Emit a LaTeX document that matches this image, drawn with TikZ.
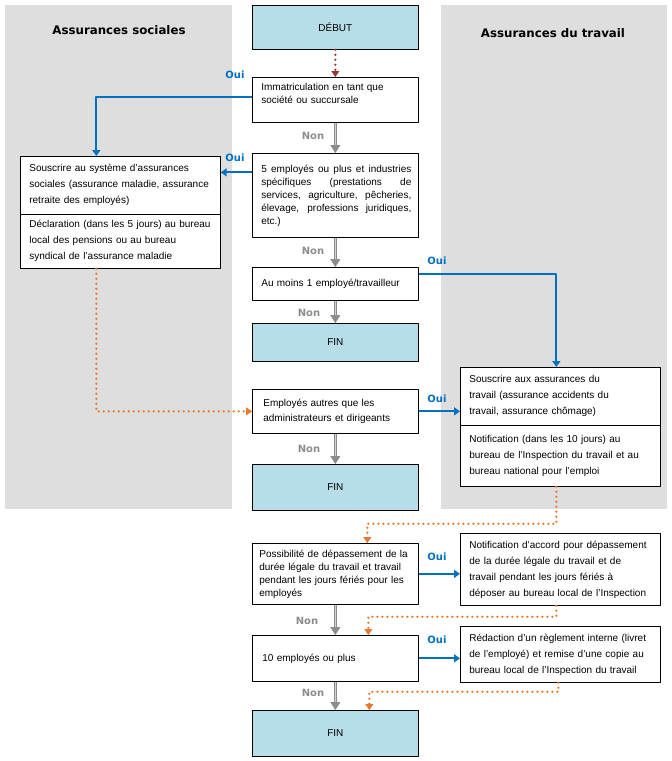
\documentclass[tikz,border=0pt]{standalone}
\usepackage{fontspec}
\setmainfont{Liberation Sans}
\newfontfamily\headfont{DejaVu Sans}
\usetikzlibrary{arrows.meta}

\definecolor{panelgray}{HTML}{DEDEDE}
\definecolor{endblue}{HTML}{B7DDE8}
\definecolor{ouiblue}{HTML}{0070C0}
\definecolor{dotorange}{HTML}{E9782A}
\definecolor{dotred}{HTML}{953735}
\definecolor{nongray}{HTML}{8C8C8C}

% one justified line of the box text
\newcommand\fullline[1]{\hspace*{2pt}\makebox[150pt][s]{\spaceskip=.3333em plus 1fil\relax #1}}

\tikzset{
  box/.style={draw=black, fill=white, line width=0.7pt, anchor=north west,
    inner xsep=9pt, inner ysep=0pt, align=left,
    font=\fontsize{10}{13}\selectfont},
  mainbox/.style={box, inner xsep=7pt, text width=152pt, minimum width=166pt},
  sidebox/.style={box, text width=182pt, minimum width=200pt,
    font=\fontsize{10}{16}\selectfont},
  endbox/.style={mainbox, fill=endblue, align=center},
  heading/.style={font=\headfont\bfseries\fontsize{11.8}{14}\selectfont},
  oui/.style={font=\headfont\bfseries\fontsize{10}{12}\selectfont, text=ouiblue},
  non/.style={font=\headfont\bfseries\fontsize{10}{12}\selectfont, text=nongray},
  ouiarrow/.style={ouiblue, line width=2pt, -{Triangle[width=8pt,length=6pt]}},
  nonarrow/.style={nongray, line width=3.6pt,
    -{Triangle[width=10pt,length=8pt,line width=0.4pt]},
    postaction={draw=gray!35, line width=1.2pt, -, shorten >=8pt}},
  dotarrow/.style={dotorange, line width=2.4pt, line cap=round,
    dash pattern=on 0pt off 5pt, -{Triangle[width=8pt,length=6pt,line width=0.4pt]}},
}

\begin{document}
\begin{tikzpicture}[x=1pt, y=-1pt, line join=round]
  \useasboundingbox (0,0) rectangle (672,761);

  % panels
  \fill[panelgray] (5,5) rectangle (232,509);
  \fill[panelgray] (441,5) rectangle (667,509);
  \node[heading] (hsoc) at (119,30) {Assurances sociales};
  \node[heading] (htrav) at (553,33) {Assurances du travail};

  % main column
  \node[endbox, minimum height=44pt] (debut) at (252,5) {DÉBUT};
  \node[mainbox, minimum height=45pt] (immat) at (252,77)
    {\hspace*{2pt}Immatriculation en tant que\\\hspace*{2pt}société ou succursale\\\mbox{}};
  \node[mainbox, minimum height=84pt] (cinq) at (252,153)
    {\fullline{5 employés ou plus et industries}\\
     \fullline{spécifiques (prestations de}\\
     \fullline{services, agriculture, pêcheries,}\\
     \fullline{élevage, professions juridiques,}\\
     \hspace*{2pt}etc.)};
  \node[mainbox, minimum height=33pt] (aumoins) at (252,267)
    {\hspace*{2pt}Au moins 1 employé/travailleur};
  \node[endbox, minimum height=38pt] (fin1) at (252,323) {FIN};
  \node[mainbox, minimum height=44pt, font=\fontsize{10}{15}\selectfont] (autres) at (252,389)
    {\hspace*{4pt}Employés autres que les\\\hspace*{4pt}administrateurs et dirigeants};
  \node[endbox, minimum height=46pt] (fin2) at (252,464) {FIN};
  \node[mainbox, minimum height=61pt] (possib) at (252,543)
    {Possibilité de dépassement de la\\durée légale du travail et travail\\pendant les jours fériés pour les\\employés};
  \node[mainbox, minimum height=46pt] (dix) at (252,635) {\hspace*{3pt}10 employés ou plus};
  \node[endbox, minimum height=46pt] (fin3) at (252,710) {FIN};

  % social insurance side
  \node[sidebox, minimum height=58pt] (socA) at (20,156)
    {Souscrire au système d’assurances\\sociales (assurance maladie, assurance\\retraite des employés)};
  \node[sidebox, minimum height=54pt] (socB) at (20,214)
    {Déclaration (dans les 5 jours) au bureau\\local des pensions ou au bureau\\syndical de l'assurance maladie};

  % labour insurance side
  \node[sidebox, minimum height=58pt] (travA) at (460,367)
    {Souscrire aux assurances du\\travail (assurance accidents du\\travail, assurance chômage)};
  \node[sidebox, minimum height=61pt] (travB) at (460,425)
    {Notification (dans les 10 jours) au\\bureau de l’Inspection du travail et au\\bureau national pour l’emploi};
  \node[sidebox, minimum height=72pt] (accord) at (460,533)
    {Notification d’accord pour dépassement\\de la durée légale du travail et de\\travail pendant les jours fériés à\\déposer au bureau local de l’Inspection};
  \node[sidebox, minimum height=56pt] (redac) at (460,626)
    {Rédaction d’un règlement interne (livret\\de l’employé) et remise d’une copie au\\bureau local de l’Inspection du travail};

  %--- start
  \draw[dotarrow, dotred] (debut) -- (immat);

  %--- "Non" branches in gray
  \draw[nonarrow] (immat) -- (cinq);
  \draw[nonarrow] (cinq) -- (aumoins);
  \draw[nonarrow] (aumoins) -- (fin1);
  \draw[nonarrow] (autres) -- (fin2);
  \draw[nonarrow] (possib) -- (dix);
  \draw[nonarrow] (dix) -- (fin3);
  \node[non] (non1) at (313,136) {Non};
  \node[non] (non2) at (313,251) {Non};
  \node[non] (non3) at (309,313) {Non};
  \node[non] (non4) at (309,449) {Non};
  \node[non] (non5) at (307,621) {Non};
  \node[non] (non6) at (313,693) {Non};

  %--- "Oui" branches in blue
  \coordinate (socin) at ([yshift=13pt]socA.east);
  \draw[ouiarrow] ([yshift=2.5pt]immat.west) -| ([xshift=-24pt]socA.north);
  \draw[ouiarrow] (cinq.west |- socin) -- (socin);
  \draw[ouiarrow] ([yshift=10pt]aumoins.east) -| ([xshift=-4pt]travA.north);
  \draw[ouiarrow] (autres.east) -- (autres.east -| travA.west);
  \draw[ouiarrow] (possib.east) -- (possib.east -| accord.west);
  \draw[ouiarrow] (dix.east) -- (dix.east -| redac.west);
  \node[oui] (oui1) at (235,75) {Oui};
  \node[oui] (oui2) at (235,158) {Oui};
  \node[oui] (oui3) at (437,261) {Oui};
  \node[oui] (oui4) at (437,399) {Oui};
  \node[oui] (oui5) at (437,557) {Oui};
  \node[oui] (oui6) at (437,640) {Oui};

  %--- follow-up steps in orange
  \draw[dotarrow] ([xshift=-24pt]socB.south) |- (autres.west);
  \draw[dotarrow] ([xshift=-4pt]travB.south) -- ++(0,37) -| ([xshift=32pt]possib.north);
  \draw[dotarrow] ([xshift=-4pt]accord.south) -- ++(0,11) -| ([xshift=33pt]dix.north);
  \draw[dotarrow] ([xshift=-2pt]redac.south) -- ++(0,9) -| ([xshift=34pt]fin3.north);
\end{tikzpicture}
\end{document}
